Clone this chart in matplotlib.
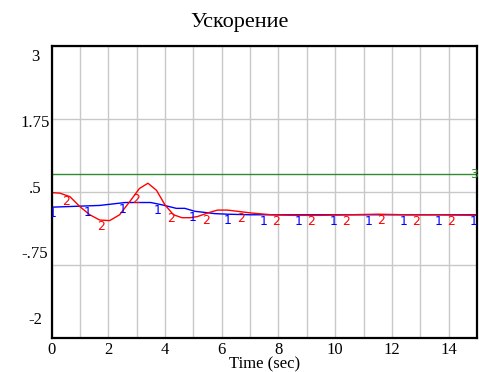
import numpy as np
import matplotlib
matplotlib.use("Agg")
import matplotlib.pyplot as plt
from matplotlib.transforms import ScaledTranslation

# data
t_red = [0, 0.3, 0.65, 1.0, 1.35, 1.7, 2.05, 2.4, 2.75, 3.1, 3.4, 3.7, 4.0, 4.3,
         4.6, 4.9, 5.15, 5.5, 5.85, 6.2, 6.55, 7.05, 7.75, 8.5, 9.5, 10.5, 11.5,
         12.5, 13.5, 15]
red = [0.49, 0.48, 0.42, 0.25, 0.11, 0.02, 0.01, 0.11, 0.33, 0.56, 0.65, 0.53,
       0.28, 0.11, 0.06, 0.06, 0.08, 0.14, 0.19, 0.19, 0.17, 0.14, 0.11, 0.10,
       0.10, 0.11, 0.12, 0.11, 0.11, 0.10]

t_blue = [0, 1.7, 2.6, 3.5, 3.9, 4.4, 4.7, 5.05, 5.4, 5.75, 6.2, 7, 15]
blue = [0.24, 0.27, 0.32, 0.32, 0.28, 0.22, 0.22, 0.17, 0.15, 0.13, 0.12, 0.11, 0.11]

t_green = [0, 15]
green = [0.8, 0.8]

y_ticks = [3, 1.75, 0.5, -0.75, -2]
y_labels = ["3", "1.75", ".5", "-.75", "-2"]
x_ticks = [0, 2, 4, 6, 8, 10, 12, 14]

serif = "Liberation Serif"

fig = plt.figure(figsize=(4.79, 3.72), dpi=100)
ax = fig.add_axes([51.5 / 479, 34 / 372, 425.5 / 479, 292 / 372])

ax.set_xlim(0, 15)
ax.set_ylim(-2, 3)
ax.set_xticks(x_ticks)
ax.set_xticks(range(16), minor=True)
ax.set_yticks(y_ticks)
ax.set_yticklabels([])
ax.tick_params(which="both", length=0, labelsize=12)
ax.tick_params(axis="x", pad=3)
for lab in ax.get_xticklabels():
    lab.set_fontfamily(serif)

# y labels are spread evenly inside the frame, as the original tool does
for i, (v, s) in enumerate(zip(y_ticks, y_labels)):
    dy = 11 - 7.2 * i  # pixels down from the grid line
    tr = ax.get_yaxis_transform() + ScaledTranslation(-16.5 / 100, -dy / 100,
                                                      fig.dpi_scale_trans)
    ax.text(0, v, s, transform=tr, ha="center", va="center", fontsize=12,
            family=serif, clip_on=False)

ax.grid(True, which="both", axis="x", color="#c8c8c8", lw=1)
ax.grid(True, which="major", axis="y", color="#c8c8c8", lw=1)
for sp in ax.spines.values():
    sp.set_linewidth(1.6)
    sp.set_color("black")

ax.plot(t_green, green, color="#2e8b2e", lw=1)
ax.plot(t_blue, blue, color="#0000ff", lw=1)
ax.plot(t_red, red, color="#ff0000", lw=1)

# series number markers along each line
for tm in np.arange(0.05, 15, 1.235):
    ax.text(tm, np.interp(tm, t_blue, blue), "1", color="#0000ff", fontsize=9,
            ha="center", va="top", clip_on=True)
for tm in np.arange(0.5, 15, 1.235):
    ax.text(tm, np.interp(tm, t_red, red), "2", color="#ff0000", fontsize=9,
            ha="center", va="top", clip_on=True)
ax.annotate("3", (15, green[-1]), xytext=(1, 0), textcoords="offset points",
            color="#2e8b2e", fontsize=9, ha="right", va="center")

fig.text(0.5, 1 - 27 / 372, "Ускорение", ha="center", va="baseline",
         fontsize=16, family=serif)
ax.set_xlabel("Time (sec)", fontsize=12, family=serif, labelpad=-1)

fig.savefig("out.png", dpi=100)
